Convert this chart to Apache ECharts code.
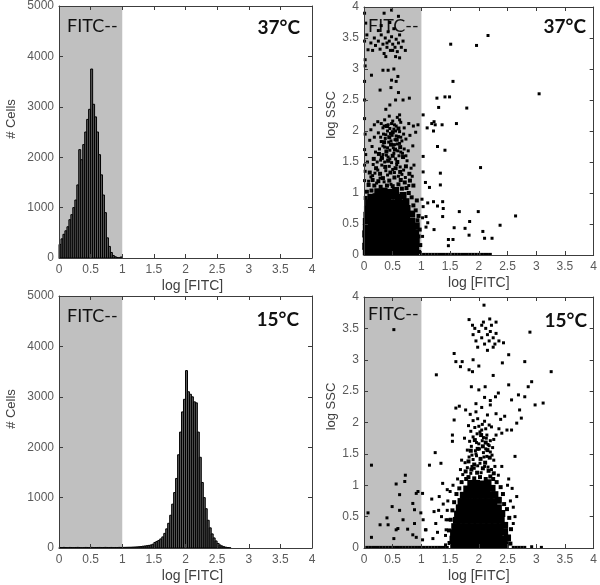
<!DOCTYPE html>
<html>
<head>
<meta charset="utf-8">
<script src="https://cdn.jsdelivr.net/npm/echarts@6/dist/echarts.min.js"></script>
<style>html,body{margin:0;padding:0;background:#fff}#c{width:600px;height:585px}</style>
</head>
<body>
<div id="c"></div>
<script>
// ---------- data ----------
const xTicks = [0, 0.5, 1, 1.5, 2, 2.5, 3, 3.5, 4];
const countTicks = [0, 1000, 2000, 3000, 4000, 5000];
const sscTicks = [0, 0.5, 1, 1.5, 2, 2.5, 3, 3.5, 4];
const gateRange = [[0, 1]];          // FITC-- gate (log units)
const BIN = 0.03125;                 // histogram bin width (log units)

const hist37Bins = [0.016,0.047,0.078,0.109,0.141,0.172,0.203,0.234,0.266,0.297,0.328,0.359,0.391,0.422,0.453,0.484,0.516,0.547,0.578,0.609,0.641,0.672,0.703,0.734,0.766,0.797,0.828,0.859,0.891,0.922,0.953,0.984];
const hist37Counts = [270,380,470,540,620,760,860,1000,1150,1450,2150,1950,2250,2500,2750,2950,3750,3050,2800,2500,2050,1650,1250,900,400,230,110,50,25,10,5,20];

const hist15Bins = [0.016,0.047,0.078,0.109,0.141,0.172,0.203,0.234,0.266,0.297,0.328,0.359,0.391,0.422,0.453,0.484,0.516,0.547,0.578,0.609,0.641,0.672,0.703,0.734,0.766,0.797,0.828,0.859,0.891,0.922,0.953,0.984,
1.016,1.047,1.078,1.109,1.141,1.172,1.203,1.234,1.266,1.297,1.328,1.359,1.391,1.422,1.453,1.484,1.516,1.547,1.578,1.609,1.641,1.672,1.703,1.734,1.766,1.797,1.828,1.859,1.891,1.922,1.953,1.984,
2.016,2.047,2.078,2.109,2.141,2.172,2.203,2.234,2.266,2.297,2.328,2.359,2.391,2.422,2.453,2.484,2.516,2.547,2.578,2.609,2.641,2.672,2.703];
const hist15Counts = [10,8,12,9,7,11,9,8,10,12,9,7,8,11,10,9,12,8,9,10,11,8,9,12,10,9,11,8,10,9,12,11,
12,13,14,15,16,18,20,22,25,28,35,40,45,52,60,75,110,130,150,180,220,290,380,490,650,870,1100,1380,1850,2300,2700,2950,
3520,3100,3050,3000,2900,2880,2300,1800,1300,1000,780,550,400,280,200,140,90,60,40,25,15,8,4];

// 37°C scatter: dense core (solid black region)
const core37 = [
[0.04,0.05],[0.14,0.05],[0.24,0.05],[0.33,0.05],[0.43,0.05],[0.53,0.05],[0.62,0.05],[0.72,0.05],[0.82,0.05],[0.9,0.05],
[0.03,0.14],[0.12,0.14],[0.22,0.14],[0.32,0.14],[0.42,0.14],[0.51,0.14],[0.61,0.14],[0.71,0.14],[0.81,0.14],[0.9,0.14],
[0.04,0.24],[0.13,0.24],[0.23,0.24],[0.33,0.24],[0.43,0.24],[0.53,0.24],[0.63,0.24],[0.73,0.24],[0.83,0.24],[0.91,0.25],
[0.03,0.34],[0.12,0.34],[0.22,0.34],[0.32,0.34],[0.42,0.34],[0.52,0.34],[0.62,0.34],[0.72,0.34],[0.82,0.34],[0.9,0.36],
[0.04,0.44],[0.14,0.44],[0.24,0.44],[0.34,0.44],[0.44,0.44],[0.54,0.44],[0.64,0.44],[0.74,0.44],[0.84,0.44],[0.91,0.47],
[0.04,0.54],[0.13,0.54],[0.23,0.54],[0.33,0.54],[0.43,0.54],[0.53,0.54],[0.63,0.54],[0.73,0.54],[0.83,0.54],
[0.05,0.64],[0.14,0.64],[0.24,0.64],[0.34,0.64],[0.44,0.64],[0.54,0.64],[0.64,0.64],[0.74,0.64],[0.83,0.66],
[0.06,0.74],[0.15,0.74],[0.25,0.74],[0.35,0.74],[0.45,0.74],[0.55,0.74],[0.65,0.74],[0.75,0.75],
[0.08,0.84],[0.17,0.84],[0.26,0.84],[0.36,0.84],[0.46,0.84],[0.56,0.84],[0.66,0.84],[0.73,0.86],
[0.12,0.93],[0.21,0.94],[0.31,0.94],[0.41,0.93],[0.5,0.95],[0.6,0.93],[0.68,0.96],
[0.24,1.02],[0.35,1.03],[0.45,1.01],[0.55,1.04]
];
// 37°C scatter: semi-dense fringe around the core
const fringe37 = [
[0.96,0.05],[0.98,0.16],[0.95,0.3],[0.97,0.41],[0.93,0.56],[0.95,0.63],[0.9,0.72],[0.86,0.8],[0.83,0.93],[0.78,1.0],[0.92,0.88],
[0.03,0.92],[0.05,1.02],[0.13,1.04],[0.66,1.07],[0.74,1.08],[0.08,1.13],[0.18,1.12],[0.29,1.1],[0.4,1.12],[0.5,1.11],[0.6,1.14],
[0.15,1.21],[0.25,1.19],[0.33,1.24],[0.44,1.2],[0.53,1.25],[0.64,1.21],[0.71,1.17],[0.8,1.2],[0.86,1.12],
[0.1,1.33],[0.21,1.4],[0.28,1.31],[0.37,1.42],[0.46,1.33],[0.55,1.4],[0.63,1.34],[0.73,1.43],[0.79,1.31],
[0.17,1.55],[0.31,1.57],[0.42,1.52],[0.5,1.6],[0.58,1.5],[0.68,1.58],[0.39,1.67],[0.54,1.7],[0.63,1.74],[0.47,1.78],[0.26,1.63],
[0.35,1.82],[0.44,1.9],[0.57,1.86],[0.5,1.98],[0.4,2.08],[0.6,2.04]
];
// 37°C scatter: individual events
const dots37 = [
[0.08,1.19],[0.15,1.28],[0.22,1.16],[0.28,1.24],[0.35,1.18],[0.41,1.29],[0.47,1.14],[0.53,1.33],[0.6,1.27],[0.66,1.3],[0.72,1.25],[0.78,1.12],[0.84,1.27],
[0.12,1.26],[0.19,1.32],[0.24,1.37],[0.31,1.45],[0.38,1.36],[0.44,1.43],[0.5,1.38],[0.57,1.46],[0.63,1.42],[0.69,1.37],[0.75,1.52],[0.82,1.4],
[0.16,1.46],[0.23,1.5],[0.29,1.53],[0.36,1.5],[0.42,1.58],[0.48,1.49],[0.55,1.55],[0.61,1.6],[0.67,1.64],[0.73,1.6],[0.06,1.5],[0.87,1.45],
[0.2,1.66],[0.27,1.71],[0.33,1.62],[0.36,1.74],[0.45,1.69],[0.51,1.73],[0.58,1.79],[0.64,1.66],[0.7,1.71],[0.77,1.68],[0.85,1.76],[0.14,1.75],
[0.3,1.83],[0.37,1.88],[0.43,1.82],[0.49,1.93],[0.54,1.86],[0.6,1.91],[0.66,1.84],[0.73,1.87],[0.8,1.93],[0.18,1.9],[0.25,1.97],[0.41,2.0],
[0.46,1.96],[0.52,2.03],[0.62,1.99],[0.9,1.98],[0.1,1.85],[0.56,1.92],[0.34,1.95],
[0.32,1.56],[0.39,1.61],[0.45,1.55],[0.52,1.64],[0.59,1.68],[0.33,1.76],[0.41,1.73],[0.47,1.84],[0.53,1.78],[0.62,1.8],
[0.29,1.9],[0.38,1.94],[0.45,2.04],[0.55,2.0],[0.64,1.9],[0.69,1.95],[0.35,2.08],[0.48,2.12],[0.53,2.1],[0.62,2.18],
[0.12,2.02],[0.18,2.1],[0.24,2.15],[0.3,2.12],[0.36,2.18],[0.42,2.1],[0.5,2.16],[0.56,2.08],[0.64,2.14],[0.7,2.05],[0.78,2.12],[0.86,2.08],[0.94,2.1],[0.44,2.24],[0.58,2.22],[0.33,2.05],
[0.38,2.35],[0.45,2.42],[0.55,2.5],[0.6,2.62],[0.47,2.7],[0.56,2.8],[0.62,2.26],[0.79,2.53],[0.68,2.5],[0.28,2.66],[0.48,2.82],[0.59,2.88],[0.33,2.98],[0.42,2.98],[0.13,2.9],[0.52,3.0],
[0.03,3.74],[0.05,3.55],[0.07,3.31],[0.02,3.15],[0.15,3.3],[0.2,3.38],[0.25,3.45],[0.28,3.32],[0.3,3.55],[0.33,3.4],[0.35,3.25],[0.37,3.5],[0.4,3.35],[0.42,3.6],
[0.44,3.45],[0.46,3.3],[0.48,3.52],[0.5,3.4],[0.52,3.65],[0.54,3.35],[0.56,3.48],[0.58,3.28],[0.6,3.42],[0.62,3.55],[0.65,3.35],[0.68,3.45],[0.72,3.3],[0.3,3.7],
[0.45,3.75],[0.38,3.2],[0.25,3.62],[0.18,3.5],[0.12,3.42],[0.55,3.2],[0.62,3.18],[0.35,3.9],[0.48,3.95],[0.6,3.85],[0.4,3.42],[0.5,3.3],
[0.01,1.2],[0.01,1.45],[0.01,1.7],[0.02,1.95],[0.01,2.2],[0.01,2.5],[0.01,2.8],[0.02,3.05],[0.01,3.45],[0.01,3.9],[0.02,1.35],[0.03,1.62],
[1.51,3.4],[1.96,3.38],[2.16,3.54],[3.05,2.6],[1.55,2.8],[1.27,2.53],[1.41,2.55],[1.49,2.55],[1.3,2.38],[1.79,2.37],[1.03,2.26],
[1.18,2.12],[1.22,2.15],[1.24,2.1],[1.21,2.0],[1.1,2.05],[1.36,2.1],[1.61,2.12],[1.28,1.75],[1.41,1.69],[1.03,1.59],[1.03,1.34],
[1.07,1.17],[1.14,1.09],[1.33,1.32],[1.33,1.13],[2.03,1.41],[1.03,0.78],[1.11,0.84],[1.21,0.86],[1.28,0.79],[1.37,0.86],[1.38,0.75],
[1.08,0.62],[1.11,0.52],[1.08,0.45],[1.22,0.41],[1.37,0.62],[1.66,0.7],[1.76,0.43],[1.83,0.32],[1.84,0.54],[1.99,0.7],[2.07,0.38],
[2.1,0.27],[2.23,0.27],[2.37,0.48],[2.64,0.63],[1.47,0.25],[1.55,0.25],[1.47,0.15],[1.57,0.44],[1.01,0.9],[1.02,0.6],[1.02,0.3],
[1.0,0.01],[1.05,0.01],[1.1,0.01],[1.15,0.01],[1.2,0.01],[1.25,0.01],[1.3,0.01],[1.35,0.01],[1.4,0.01],[1.45,0.01],[1.5,0.01],[1.55,0.01],
[1.6,0.01],[1.65,0.01],[1.7,0.01],[1.75,0.01],[1.8,0.01],[1.85,0.01],[1.9,0.01],[1.95,0.01],[2.0,0.01],[2.05,0.01],[2.1,0.01],[2.15,0.01],[2.2,0.01]
];

// 15°C scatter: dense core
const core15 = [
[1.57,0.05],[1.66,0.05],[1.76,0.05],[1.86,0.05],[1.96,0.05],[2.06,0.05],[2.16,0.05],[2.26,0.05],[2.36,0.05],[2.46,0.05],
[1.55,0.14],[1.64,0.14],[1.74,0.14],[1.84,0.14],[1.94,0.14],[2.04,0.14],[2.14,0.14],[2.24,0.14],[2.34,0.14],[2.44,0.14],[2.5,0.16],
[1.56,0.24],[1.65,0.24],[1.75,0.24],[1.85,0.24],[1.95,0.24],[2.05,0.24],[2.15,0.24],[2.25,0.24],[2.35,0.24],[2.45,0.25],
[1.58,0.34],[1.67,0.34],[1.77,0.34],[1.87,0.34],[1.97,0.34],[2.07,0.34],[2.17,0.34],[2.27,0.34],[2.37,0.34],[2.45,0.36],
[1.61,0.44],[1.69,0.44],[1.79,0.44],[1.89,0.44],[1.99,0.44],[2.09,0.44],[2.19,0.44],[2.29,0.44],[2.39,0.44],
[1.63,0.54],[1.71,0.54],[1.81,0.54],[1.91,0.54],[2.01,0.54],[2.11,0.54],[2.21,0.54],[2.31,0.54],[2.4,0.55],
[1.66,0.64],[1.74,0.64],[1.84,0.64],[1.94,0.64],[2.04,0.64],[2.14,0.64],[2.24,0.64],[2.34,0.64],
[1.69,0.74],[1.77,0.74],[1.86,0.74],[1.96,0.74],[2.06,0.74],[2.16,0.74],[2.26,0.74],[2.34,0.76],
[1.73,0.84],[1.81,0.84],[1.9,0.84],[1.99,0.84],[2.09,0.84],[2.19,0.84],[2.28,0.85],
[1.79,0.94],[1.87,0.94],[1.95,0.94],[2.04,0.94],[2.14,0.94],[2.23,0.95],
[1.86,1.03],[1.96,1.03],[2.06,1.02],[2.16,1.04]
];
// 15°C scatter: semi-dense fringe
const fringe15 = [
[1.49,0.08],[1.48,0.28],[1.51,0.45],[1.54,0.6],[1.57,0.73],[1.61,0.86],[1.66,0.95],[1.7,1.05],[1.78,1.1],
[2.55,0.07],[2.56,0.3],[2.53,0.48],[2.49,0.62],[2.44,0.7],[2.42,0.86],[2.38,0.97],[2.31,1.05],[2.25,1.1],
[1.82,1.13],[1.92,1.11],[2.02,1.13],[2.12,1.1],[2.2,1.14],
[1.77,1.22],[1.87,1.25],[1.97,1.2],[2.07,1.27],[2.17,1.23],[2.26,1.19],[1.82,1.38],[1.92,1.33],[2.03,1.42],[2.11,1.36],[2.19,1.44],
[1.86,1.55],[1.98,1.58],[2.07,1.62],[2.15,1.56],[1.93,1.72],[2.04,1.8],[2.12,1.68]
];
// 15°C scatter: individual events
const dots15 = [
[1.72,1.17],[1.8,1.28],[1.86,1.19],[1.92,1.27],[1.98,1.31],[2.04,1.2],[2.1,1.3],[2.16,1.29],[2.22,1.25],[2.28,1.3],[2.34,1.16],
[1.76,1.36],[1.83,1.45],[1.9,1.41],[1.96,1.47],[2.02,1.35],[2.08,1.52],[2.14,1.46],[2.2,1.53],[2.26,1.4],[1.8,1.56],[1.87,1.62],
[1.94,1.55],[2.0,1.66],[2.06,1.71],[2.12,1.58],[2.18,1.63],[2.24,1.6],[1.68,1.25],[2.4,1.3],[1.63,1.1],[1.7,1.4],
[1.84,1.7],[1.9,1.77],[1.96,1.68],[2.02,1.85],[2.08,1.76],[2.14,1.8],[2.2,1.71],[2.26,1.73],[1.86,1.86],[1.93,1.92],[2.0,1.94],
[2.06,1.97],[2.12,1.9],[2.18,1.96],[2.3,1.8],[1.82,1.95],[1.9,2.03],[1.98,2.06],[2.1,2.02],[2.22,1.93],[2.35,1.9],[1.54,1.8],
[1.54,1.7],[2.4,1.83],[2.49,1.88],[2.57,1.88],[2.63,1.46],[1.75,1.75],
[1.88,1.3],[1.95,1.5],[2.01,1.58],[2.09,1.45],[2.16,1.65],[1.97,1.82],[2.05,1.88],[2.13,1.75],[1.88,1.48],[2.23,1.48],
[1.57,2.04],[1.6,2.23],[1.66,2.26],[1.77,2.2],[1.85,2.13],[1.95,2.17],[2.05,2.24],[2.15,2.12],[2.2,2.28],[2.3,2.14],[2.38,2.05],
[2.45,2.1],[2.71,2.2],[2.66,1.99],[2.74,2.07],[2.11,2.57],[2.0,2.52],[1.87,2.57],[2.29,2.41],[2.34,2.47],[2.52,2.6],[2.57,2.36],
[2.69,2.44],[2.8,2.41],[2.86,2.57],[2.92,2.65],[2.98,2.28],[3.12,2.31],[2.2,2.35],[2.1,2.4],[1.95,2.3],
[1.57,3.1],[1.6,2.97],[1.71,2.97],[1.68,2.89],[1.83,2.84],[1.89,2.81],[2.41,2.95],[2.52,3.08],[2.43,3.27],[2.8,2.97],[3.26,2.81],
[1.26,2.76],[2.0,2.9],[2.25,2.75],[1.9,3.0],[2.15,3.15],
[1.83,3.64],[1.89,3.55],[2.09,3.87],[2.19,3.65],[2.3,3.6],[2.89,3.44],[1.9,3.4],[1.95,3.3],[2.0,3.45],[2.05,3.35],[2.1,3.25],
[2.12,3.5],[2.15,3.4],[2.18,3.3],[2.2,3.45],[2.22,3.55],[2.25,3.35],[2.28,3.25],[2.3,3.42],[2.35,3.3],[2.05,3.55],[1.98,3.2],
[2.08,3.6],[2.25,3.2],[1.93,3.5],
[0.13,1.32],[0.07,0.56],[0.13,0.17],[0.52,3.48],[0.4,0.48],[0.28,0.37],[0.56,1.02],[0.62,0.85],[0.72,1.16],[0.71,1.06],[0.49,0.66],
[0.62,0.6],[0.68,0.45],[0.59,0.31],[0.56,0.29],[0.76,0.3],[0.85,0.71],[0.88,0.61],[0.91,0.87],[0.94,0.9],[0.88,0.39],[0.85,0.21],
[0.91,0.17],[0.52,0.15],[0.42,0.37],[1.02,0.87],[0.99,0.56],[1.03,0.45],[1.02,0.13],[1.07,0.29],
[1.24,1.52],[1.14,1.32],[1.18,0.78],[1.22,0.58],[1.25,0.39],[1.08,0.29],[1.34,1.35],[1.37,1.03],[1.31,0.82],[1.45,0.93],[1.2,0.15],
[1.43,0.29],[1.43,0.45],[1.3,0.6],[1.35,0.5],[1.38,0.7],[1.28,0.25],
[2.63,0.5],[2.6,0.39],[2.66,0.82],[2.6,0.65],[2.55,0.75],[2.58,0.95],[2.5,1.0],[2.52,1.1],[1.45,0.6],[1.46,0.45],[1.46,0.75],
[1.5,0.9],[1.55,1.0],[1.42,0.2],[1.42,0.05],
[0.05,0.01],[0.1,0.01],[0.15,0.01],[0.2,0.01],[0.25,0.01],[0.3,0.01],[0.35,0.01],[0.4,0.01],[0.45,0.01],[0.5,0.01],[0.55,0.01],
[0.6,0.01],[0.65,0.01],[0.7,0.01],[0.75,0.01],[0.8,0.01],[0.85,0.01],[0.9,0.01],[0.95,0.01],[1.0,0.01],[1.05,0.01],[1.1,0.01],
[1.15,0.01],[1.2,0.01],[1.25,0.01],[1.3,0.01],[1.35,0.01],[1.4,0.01],[1.45,0.01],[2.6,0.01],[2.65,0.01],[2.7,0.01],[2.75,0.01],
[2.8,0.01],[2.92,0.02],[3.09,0.01]
];

// ---------- chart ----------
const chart = echarts.init(document.getElementById('c'), null, {renderer: 'canvas'});
const FRAME = '#3c3c3c';
const LBL = '#5a5a5a';

const grids = [
  {left: 59, top: 5, width: 253, height: 253},
  {left: 364, top: 7, width: 232, height: 248},
  {left: 59, top: 296, width: 253, height: 252},
  {left: 364, top: 297, width: 232, height: 251}
];

function baseAxis(extra) {
  return Object.assign({
    type: 'value', z: 10,
    axisLine: {show: true, onZero: false, lineStyle: {color: FRAME, width: 1}},
    axisTick: {show: true, inside: true, length: 4, lineStyle: {color: FRAME, width: 1}},
    splitLine: {show: false},
    axisLabel: {show: false}
  }, extra);
}
const plain = v => String(v);
const xAxes = [], yAxes = [];
for (let g = 0; g < 4; g++) {
  const isHist = (g === 0 || g === 2);
  xAxes.push(baseAxis({
    gridIndex: g, position: 'bottom', min: xTicks[0], max: xTicks[xTicks.length - 1], interval: xTicks[1] - xTicks[0],
    axisLabel: {show: true, color: LBL, fontSize: 12, fontFamily: 'Liberation Sans', margin: 6, formatter: plain},
    name: 'log [FITC]', nameLocation: 'middle', nameGap: 21,
    nameTextStyle: {color: '#404040', fontSize: 14, fontFamily: 'Liberation Sans', padding: isHist ? [0, 0, 0, 14] : [0, 0, 0, 0]}
  }));
}
for (let g = 0; g < 4; g++) {
  xAxes.push(baseAxis({gridIndex: g, position: 'top', min: xTicks[0], max: xTicks[xTicks.length - 1], interval: xTicks[1] - xTicks[0]}));
}
for (let g = 0; g < 4; g++) {
  const isHist = (g === 0 || g === 2);
  const ticks = isHist ? countTicks : sscTicks;
  yAxes.push(baseAxis({
    gridIndex: g, position: 'left', min: ticks[0], max: ticks[ticks.length - 1], interval: ticks[1] - ticks[0],
    axisLabel: {show: true, color: LBL, fontSize: 12, fontFamily: 'Liberation Sans', margin: 5, formatter: plain},
    name: isHist ? '# Cells' : 'log SSC', nameLocation: 'middle', nameGap: isHist ? 41 : 25,
    nameTextStyle: {color: '#404040', fontSize: 13, fontFamily: 'Liberation Sans', padding: isHist ? [0, 0, 0, 26] : [0, 0, 0, 32]}
  }));
}
for (let g = 0; g < 4; g++) {
  const isHist = (g === 0 || g === 2);
  const ticks = isHist ? countTicks : sscTicks;
  yAxes.push(baseAxis({gridIndex: g, position: 'right', min: ticks[0], max: ticks[ticks.length - 1], interval: ticks[1] - ticks[0]}));
}

function bandSeries(g) {
  return {
    type: 'custom', xAxisIndex: g, yAxisIndex: g, z: 1, silent: true,
    data: gateRange,
    renderItem: function (params, api) {
      const cs = params.coordSys;
      const a = api.coord([api.value(0), 0]);
      const b = api.coord([api.value(1), 0]);
      return {type: 'rect', shape: {x: a[0], y: cs.y, width: b[0] - a[0], height: cs.height}, style: {fill: '#c0c0c0'}};
    }
  };
}
function histSeries(g, bins, counts) {
  return {
    type: 'custom', xAxisIndex: g, yAxisIndex: g, z: 3, silent: true,
    data: bins.map((c, i) => [c, counts[i]]),
    renderItem: function (params, api) {
      const c = api.value(0), v = api.value(1);
      const p0 = api.coord([c - BIN / 2, v]);
      const p1 = api.coord([c + BIN / 2, 0]);
      return {type: 'rect', shape: {x: p0[0], y: p0[1], width: p1[0] - p0[0], height: p1[1] - p0[1]},
        style: {fill: '#5c5c5c', stroke: '#000', lineWidth: 1}};
    }
  };
}
function scatterSeries(g, data, size) {
  return {
    type: 'scatter', xAxisIndex: g, yAxisIndex: g, z: 3, silent: true,
    symbol: 'rect', symbolSize: size, data: data,
    itemStyle: {color: '#000', opacity: 1}
  };
}

const txt = (x, y, t, bold, align) => ({
  type: 'text', x: x, y: y, z: 2,
  style: {text: t, fill: '#111', fontSize: bold ? 19 : 18, fontWeight: bold ? 'bold' : 'normal',
    fontFamily: 'Lato', align: align, verticalAlign: 'middle'}
});

chart.setOption({
  animation: false,
  backgroundColor: '#fff',
  grid: grids,
  xAxis: xAxes,
  yAxis: yAxes,
  graphic: [
    txt(67, 26, 'FITC--', false, 'left'), txt(300, 28, '37°C', true, 'right'),
    txt(368, 26, 'FITC--', false, 'left'), txt(586, 27, '37°C', true, 'right'),
    txt(67, 316, 'FITC--', false, 'left'), txt(299, 320, '15°C', true, 'right'),
    txt(368, 314, 'FITC--', false, 'left'), txt(587, 321, '15°C', true, 'right')
  ],
  series: [
    bandSeries(0), bandSeries(1), bandSeries(2), bandSeries(3),
    histSeries(0, hist37Bins, hist37Counts),
    histSeries(2, hist15Bins, hist15Counts),
    scatterSeries(1, core37, 7), scatterSeries(1, fringe37, 4), scatterSeries(1, dots37, 3),
    scatterSeries(3, core15, 7), scatterSeries(3, fringe15, 4), scatterSeries(3, dots15, 3)
  ]
});
</script>
</body>
</html>
